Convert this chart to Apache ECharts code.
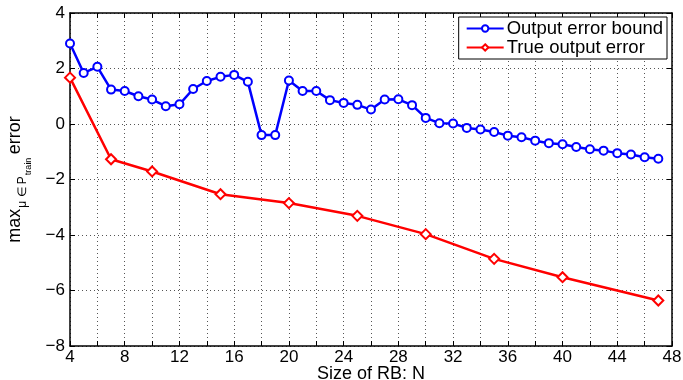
<!DOCTYPE html>
<html>
<head>
<meta charset="utf-8">
<script src="https://cdn.jsdelivr.net/npm/echarts@6/dist/echarts.min.js"></script>
<style>
  html, body { margin: 0; padding: 0; background: #fff; }
  #chart { width: 683px; height: 380px; }
</style>
</head>
<body>
<div id="chart"></div>
<script>
// data
const boundN = [4, 5, 6, 7, 8, 9, 10, 11, 12, 13, 14, 15, 16, 17, 18, 19, 20, 21, 22, 23, 24, 25,
  26, 27, 28, 29, 30, 31, 32, 33, 34, 35, 36, 37, 38, 39, 40, 41, 42, 43, 44, 45, 46, 47]
const boundErr = [2.90, 1.84, 2.06, 1.24, 1.19, 1.00, 0.88, 0.64, 0.71, 1.26, 1.55, 1.70, 1.77, 1.52,
  -0.40, -0.40, 1.57, 1.19, 1.19, 0.86, 0.76, 0.69, 0.52, 0.88, 0.89, 0.68, 0.22, 0.03, 0.02,
  -0.14, -0.20, -0.29, -0.42, -0.48, -0.60, -0.69, -0.73, -0.83, -0.91, -0.96, -1.05, -1.10, -1.20, -1.25]
const trueN = [4, 7, 10, 15, 20, 25, 30, 35, 40, 47]
const trueErr = [1.67, -1.27, -1.71, -2.53, -2.85, -3.31, -3.97, -4.86, -5.52, -6.36]

const font = '"Liberation Sans", Arial, sans-serif'
const minus = v => String(v).replace('-', '\u2212')

const chart = echarts.init(document.getElementById('chart'), null, { renderer: 'canvas' })

const boxAxis = {
  axisLine: { show: true, onZero: false, lineStyle: { color: '#000', width: 1.5 } },
  axisTick: { show: true, inside: true, length: 5, lineStyle: { color: '#000', width: 1 } },
  axisLabel: { show: false },
  splitLine: { show: false }
}
const grid = { show: true, lineStyle: { color: '#555', type: [1, 3], width: 1 } }

chart.setOption({
  animation: false,
  backgroundColor: '#fff',
  grid: { left: 70, right: 11, top: 13, bottom: 34, outerBoundsMode: 'none', containLabel: false },
  legend: {
    right: 16, top: 17, orient: 'vertical',
    backgroundColor: '#fff', borderColor: '#000', borderWidth: 1,
    padding: [2, 4, 2, 7], itemGap: 0, itemWidth: 37, itemHeight: 8,
    textStyle: { fontFamily: font, fontSize: 18.5, color: '#000', padding: [0, 0, 0, -2] },
    data: ['Output error bound', 'True output error']
  },
  xAxis: [{
    type: 'value', min: 4, max: 48, interval: 2,
    name: 'Size of RB: N', nameLocation: 'middle', nameGap: 19, nameMoveOverlap: false,
    nameTextStyle: { fontFamily: font, fontSize: 18, color: '#000' },
    axisLine: { onZero: false, lineStyle: { color: '#000', width: 1.5 } },
    axisTick: { inside: true, length: 5, lineStyle: { color: '#000' } },
    axisLabel: {
      margin: 3, fontFamily: font, fontSize: 17, color: '#000',
      formatter: v => (v % 4 === 0 ? String(v) : '')
    },
    splitLine: grid
  }, {
    type: 'value', min: 4, max: 48, interval: 2, position: 'top', ...boxAxis
  }],
  yAxis: [{
    type: 'value', min: -8, max: 4, interval: 2,
    name: '{a|max}{b|\u03bc \u2208 P}{c|train} {a|error}',
    nameLocation: 'middle', nameRotate: 90, nameGap: 37, nameMoveOverlap: false,
    nameTextStyle: {
      fontFamily: font, color: '#000',
      rich: {
        a: { fontFamily: font, fontSize: 18, color: '#000', verticalAlign: 'bottom', padding: [0, 0, 9, 0] },
        b: { fontFamily: font, fontSize: 12, color: '#000', verticalAlign: 'bottom', padding: [0, 0, 4, 1] },
        c: { fontFamily: font, fontSize: 9, color: '#000', verticalAlign: 'bottom', padding: [0, 0, 0, 1] }
      }
    },
    axisLine: { onZero: false, lineStyle: { color: '#000', width: 1.5 } },
    axisTick: { inside: true, length: 5, lineStyle: { color: '#000' } },
    axisLabel: { margin: 5, fontFamily: font, fontSize: 17, color: '#000', formatter: minus },
    splitLine: grid
  }, {
    type: 'value', min: -8, max: 4, interval: 2, position: 'right', ...boxAxis
  }],
  series: [{
    name: 'Output error bound', type: 'line',
    data: boundN.map((n, i) => [n, boundErr[i]]),
    symbol: 'emptyCircle', symbolSize: 8,
    lineStyle: { color: '#0000ff', width: 2.5 },
    itemStyle: { color: '#0000ff', borderColor: '#0000ff', borderWidth: 2 },
    z: 3
  }, {
    name: 'True output error', type: 'line',
    data: trueN.map((n, i) => [n, trueErr[i]]),
    symbol: 'emptyDiamond', symbolSize: 10,
    lineStyle: { color: '#ff0000', width: 2.5 },
    itemStyle: { color: '#ff0000', borderColor: '#ff0000', borderWidth: 2 },
    z: 2
  }]
})
</script>
</body>
</html>
